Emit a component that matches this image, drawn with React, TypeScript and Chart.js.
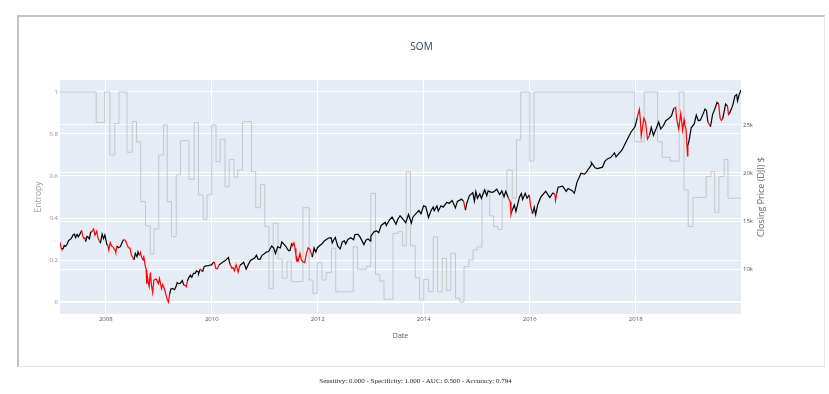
import React, { useEffect, useRef } from "react";
import { Chart, registerables } from "chart.js";
Chart.register(...registerables);

const chartTitle = "SOM";
const xTitle = "Date";
const leftTitle = "Entropy";
const rightTitle = "Closing Price (DJI) $";
const footerText = "Sensitivy: 0.000 - Specificity: 1.000 - AUC: 0.500 - Accuracy: 0.794";

const xTickYears = [2008, 2010, 2012, 2014, 2016, 2018];
const entropyTicks = [0, 0.2, 0.4, 0.6, 0.8, 1];
const priceTicks = [10000, 15000, 20000, 25000];

const priceDates = [
  "2007-02-20","2007-02-27","2007-03-05","2007-03-14","2007-03-21","2007-03-30","2007-04-10","2007-04-20","2007-04-30","2007-05-10",
  "2007-05-21","2007-05-31","2007-06-07","2007-06-18","2007-06-26","2007-07-05","2007-07-19","2007-07-26","2007-08-03","2007-08-10",
  "2007-08-16","2007-08-24","2007-08-31","2007-09-10","2007-09-19","2007-09-28","2007-10-09","2007-10-19","2007-10-31","2007-11-08",
  "2007-11-21","2007-11-26","2007-12-07","2007-12-17","2007-12-26","2008-01-08","2008-01-15","2008-01-22","2008-02-01","2008-02-12",
  "2008-02-21","2008-03-07","2008-03-10","2008-03-18","2008-03-28","2008-04-11","2008-04-23","2008-05-02","2008-05-15","2008-05-27",
  "2008-06-06","2008-06-17","2008-06-26","2008-07-15","2008-07-23","2008-08-04","2008-08-11","2008-08-20","2008-08-28","2008-09-05",
  "2008-09-15","2008-09-19","2008-09-29","2008-10-06","2008-10-10","2008-10-13","2008-10-22","2008-10-27","2008-11-04","2008-11-12",
  "2008-11-20","2008-11-28","2008-12-08","2008-12-16","2008-12-29","2009-01-06","2009-01-20","2009-01-28","2009-02-10","2009-02-23",
  "2009-03-02","2009-03-09","2009-03-17","2009-03-26","2009-04-06","2009-04-20","2009-04-30","2009-05-08","2009-05-19","2009-05-29",
  "2009-06-12","2009-06-23","2009-07-03","2009-07-10","2009-07-17","2009-07-27","2009-08-07","2009-08-17","2009-08-28","2009-09-09",
  "2009-09-18","2009-09-30","2009-10-02","2009-10-14","2009-10-30","2009-11-09","2009-11-20","2009-12-09","2009-12-21","2009-12-31",
  "2010-01-11","2010-01-19","2010-01-29","2010-02-08","2010-02-19","2010-03-05","2010-03-19","2010-04-07","2010-04-26","2010-05-06",
  "2010-05-20","2010-05-28","2010-06-07","2010-06-18","2010-07-02","2010-07-13","2010-07-26","2010-08-09","2010-08-26","2010-09-10",
  "2010-09-24","2010-10-08","2010-10-25","2010-11-05","2010-11-16","2010-11-30","2010-12-13","2010-12-29","2011-01-14","2011-01-28",
  "2011-02-18","2011-03-04","2011-03-16","2011-03-31","2011-04-18","2011-04-29","2011-05-13","2011-05-25","2011-06-06","2011-06-15",
  "2011-06-24","2011-07-07","2011-07-12","2011-07-21","2011-07-29","2011-08-04","2011-08-08","2011-08-11","2011-08-19","2011-08-31",
  "2011-09-09","2011-09-22","2011-10-03","2011-10-13","2011-10-27","2011-11-07","2011-11-25","2011-12-07","2011-12-19","2011-12-30",
  "2012-01-13","2012-01-31","2012-02-17","2012-03-16","2012-04-02","2012-04-10","2012-04-20","2012-05-01","2012-05-18","2012-06-04",
  "2012-06-19","2012-07-03","2012-07-12","2012-07-27","2012-08-16","2012-09-05","2012-09-14","2012-10-05","2012-10-19","2012-11-15",
  "2012-11-30","2012-12-14","2012-12-28","2013-01-02","2013-01-25","2013-02-11","2013-02-25","2013-03-14","2013-04-11","2013-04-18",
  "2013-05-10","2013-05-28","2013-06-24","2013-07-05","2013-07-22","2013-08-15","2013-08-30","2013-09-18","2013-10-08","2013-10-18",
  "2013-11-08","2013-11-29","2013-12-13","2013-12-31","2014-01-15","2014-02-03","2014-02-21","2014-03-07","2014-03-14","2014-04-02",
  "2014-04-11","2014-04-30","2014-05-15","2014-06-09","2014-06-24","2014-07-16","2014-08-07","2014-08-21","2014-09-19","2014-10-03",
  "2014-10-15","2014-10-24","2014-11-11","2014-12-05","2014-12-16","2014-12-26","2015-01-06","2015-01-22","2015-02-02","2015-02-25",
  "2015-03-11","2015-03-20","2015-04-13","2015-04-27","2015-05-19","2015-06-08","2015-06-23","2015-07-08","2015-07-20","2015-08-06",
  "2015-08-20","2015-08-25","2015-09-01","2015-09-17","2015-09-28","2015-10-22","2015-11-04","2015-11-13","2015-12-01","2015-12-14",
  "2015-12-29","2016-01-07","2016-01-20","2016-02-01","2016-02-11","2016-02-25","2016-03-17","2016-04-20","2016-05-19","2016-06-08",
  "2016-06-23","2016-06-27","2016-07-05","2016-07-15","2016-08-15","2016-09-09","2016-09-22","2016-10-20","2016-11-04","2016-11-22",
  "2016-12-20","2017-01-13","2017-01-25","2017-02-28","2017-03-01","2017-03-27","2017-04-13","2017-05-17","2017-06-02","2017-06-20",
  "2017-07-14","2017-08-08","2017-08-18","2017-09-29","2017-10-31","2017-11-30","2017-12-28","2018-01-12","2018-01-26","2018-02-02",
  "2018-02-08","2018-02-26","2018-03-09","2018-03-23","2018-04-06","2018-04-18","2018-05-03","2018-05-25","2018-06-08","2018-06-22",
  "2018-07-10","2018-07-27","2018-08-17","2018-09-04","2018-09-21","2018-10-03","2018-10-10","2018-10-24","2018-11-07","2018-11-20",
  "2018-11-30","2018-12-04","2018-12-13","2018-12-24","2018-12-26","2019-01-04","2019-01-18","2019-02-08","2019-02-22","2019-03-08",
  "2019-03-22","2019-04-10","2019-04-23","2019-05-03","2019-05-13","2019-05-31","2019-06-14","2019-06-28","2019-07-15","2019-07-26",
  "2019-08-05","2019-08-14","2019-08-23","2019-09-12","2019-09-25","2019-10-02","2019-10-08","2019-10-31","2019-11-15","2019-11-27",
  "2019-12-03","2019-12-16","2019-12-27"
];

const priceValues = [
  12786,12216,12050,12133,12447,12354,12573,12961,13063,13215,
  13542,13628,13266,13612,13337,13578,14000,13473,13182,13240,
  12846,13379,13358,13128,13816,13896,14165,13522,13930,13266,
  12799,12743,13625,13167,13551,12589,12501,11971,12743,12373,
  12284,11894,11740,12392,12216,12325,12763,13058,12992,12548,
  12209,12160,11453,10962,11632,11284,11782,11417,11715,11220,
  10917,11388,10365,9955,8451,9387,8519,8175,9625,8282,
  7552,8829,8934,8924,8483,9015,7949,8375,7888,7114,
  6763,6547,7395,7924,7975,7841,8168,8575,8474,8500,
  8799,8322,8280,8146,8743,9108,9370,9135,9544,9547,
  9820,9712,9487,10015,9713,10226,10318,10337,10414,10428,
  10663,10725,10067,10002,10402,10566,10741,10898,11205,10520,
  10068,10136,9816,10450,9686,10363,10525,10698,9985,10462,
  10860,11006,11164,11444,11023,11006,11428,11585,11787,11823,
  12391,12169,11613,12320,12202,12810,12596,12394,12089,11897,
  11934,12719,12447,12724,12143,11384,10810,11143,10818,11614,
  10992,10734,10655,11478,12209,12068,11231,12196,11766,12218,
  12422,12633,12950,13233,13264,12716,13029,13279,12369,12101,
  12837,12943,12605,13076,13250,13047,13593,13610,13344,12543,
  13026,13136,12938,13412,13895,13971,13784,14539,14865,14537,
  15118,15409,14660,15135,15545,15112,14810,15677,14776,15400,
  15761,16086,15755,16577,16481,15373,16103,16452,16066,16573,
  16027,16581,16447,16943,16819,17138,16368,17039,17280,17009,
  16141,16805,17615,17958,17068,18053,17371,17813,17361,18224,
  17635,18127,17977,18037,18312,17766,18144,17515,18100,17419,
  16990,15666,16058,16675,16002,17489,17867,17245,17888,17368,
  17720,16514,15766,16449,15660,16697,17482,18096,17435,17920,
  17780,17140,17840,18516,18636,18085,18392,18163,17888,19023,
  19974,19885,20069,20812,21115,20550,20453,20607,21206,21467,
  21638,22085,21674,22405,23377,24272,24837,25803,26617,25521,
  23860,25710,25336,23533,23933,24748,23930,24753,25317,24580,
  24920,25451,25669,25952,26744,26828,25599,24584,26191,24465,
  25538,25027,24597,21792,22878,23433,24706,25106,26031,25450,
  25502,26157,26656,26505,25324,24815,26089,26600,27359,27192,
  25718,25479,25629,27182,26970,26078,26164,27046,28005,28164,
  27503,28235,28645
];

const redStarts = [
  "2007-02-20","2007-07-22","2007-10-01","2008-01-12","2008-05-01","2008-08-22","2009-06-26","2009-10-20","2010-01-21","2010-05-04",
  "2011-07-08","2014-10-06","2015-08-12","2016-01-01","2016-06-21","2018-01-18","2018-09-26","2019-05-10","2019-07-28","2019-09-26"
];
const redEnds = [
  "2007-03-06","2007-08-19","2007-11-22","2008-03-15","2008-07-08","2009-03-17","2009-07-14","2009-11-02","2010-02-14","2010-07-12",
  "2011-11-20","2014-10-17","2015-09-08","2016-01-22","2016-07-08","2018-04-05","2018-12-26","2019-05-31","2019-08-26","2019-10-06"
];

const entropyYears = [
  2007.137,2007.82,2007.98,2008.08,2008.17,2008.25,2008.40,2008.50,2008.58,2008.66,
  2008.75,2008.84,2008.91,2009.00,2009.09,2009.16,2009.24,2009.33,2009.41,2009.57,
  2009.67,2009.75,2009.84,2009.91,2010.00,2010.08,2010.16,2010.25,2010.33,2010.42,
  2010.49,2010.58,2010.75,2010.83,2010.92,2011.00,2011.08,2011.16,2011.25,2011.33,
  2011.42,2011.50,2011.72,2011.84,2011.91,2011.99,2012.08,2012.16,2012.26,2012.34,
  2012.67,2012.75,2012.92,2013.00,2013.09,2013.17,2013.25,2013.42,2013.52,2013.60,
  2013.67,2013.75,2013.84,2013.92,2014.00,2014.09,2014.18,2014.26,2014.35,2014.43,
  2014.51,2014.60,2014.68,2014.76,2014.85,2014.93,2015.01,2015.10,2015.245,2015.32,
  2015.40,2015.48,2015.57,2015.67,2015.75,2015.83,2016.00,2016.08,2017.98,2018.16,
  2018.41,2018.50,2018.65,2018.82,2018.91,2018.99,2019.08,2019.33,2019.42,2019.49,
  2019.57,2019.67,2019.74,2019.986
];
const entropyValues = [
  1.0,0.855,1.0,0.70,0.85,1.0,0.713,0.859,0.763,0.478,
  0.363,0.228,0.348,0.70,0.843,0.478,0.311,0.605,0.768,0.584,
  0.854,0.51,0.394,0.51,0.843,0.668,0.775,0.549,0.679,0.594,
  0.629,0.859,0.621,0.449,0.56,0.359,0.065,0.375,0.205,0.113,
  0.195,0.097,0.449,0.105,0.041,0.187,0.105,0.14,0.256,0.049,
  0.263,0.156,0.17,0.517,0.132,0.10,0.013,0.327,0.335,0.268,
  0.62,0.268,0.116,0.01,0.108,0.049,0.311,0.049,0.208,0.054,
  0.232,0.018,0.0,0.168,0.2,0.248,0.263,0.533,0.41,0.359,
  0.346,0.517,0.629,0.494,0.771,1.0,0.671,1.0,0.763,1.0,
  0.763,0.689,0.671,1.0,0.533,0.359,0.498,0.597,0.621,0.427,
  0.597,0.679,0.494,0.494
];

function toYear(s: string): number {
  const [y, m, d] = s.split("-").map(Number);
  const t0 = Date.UTC(y, 0, 1);
  const t1 = Date.UTC(y + 1, 0, 1);
  return y + (Date.UTC(y, m - 1, d) - t0) / (t1 - t0);
}

const FONT = '"Open Sans", "DejaVu Sans", sans-serif';

export default function App() {
  const ref = useRef<HTMLCanvasElement>(null);

  useEffect(() => {
    const canvas = ref.current;
    if (!canvas) return;
    const priceData = priceDates.map((d, i) => ({ x: toYear(d), y: priceValues[i] }));
    const entropyData = entropyYears.map((x, i) => ({ x, y: entropyValues[i] }));
    const redRanges = redStarts.map((s, i) => [toYear(s), toYear(redEnds[i])]);

    const bgPlugin = {
      id: "plotBg",
      beforeDraw(chart: any) {
        const { ctx, chartArea: a } = chart;
        ctx.save();
        ctx.fillStyle = "#E5ECF6";
        ctx.fillRect(a.left, a.top, a.right - a.left, a.bottom - a.top);
        ctx.restore();
      },
      afterDraw(chart: any) {
        const { ctx, chartArea: a } = chart;
        ctx.save();
        ctx.fillStyle = "#2a3f5f";
        ctx.font = `10px ${FONT}`;
        ctx.textAlign = "center";
        ctx.textBaseline = "middle";
        ctx.fillText(chartTitle, 421.5, 47);
        ctx.translate(761, (a.top + a.bottom) / 2);
        ctx.rotate(-Math.PI / 2);
        ctx.fillStyle = "#666";
        ctx.font = `9px ${FONT}`;
        ctx.fillText(rightTitle, 0, 0);
        ctx.restore();
      },
    };

    const chart = new Chart(canvas, {
      type: "line",
      data: {
        datasets: [
          {
            label: "Price",
            data: priceData,
            yAxisID: "y1",
            borderColor: "#000000",
            borderWidth: 1.2,
            pointRadius: 0,
            tension: 0,
            segment: {
              borderColor: (c: any) => {
                const m = (c.p0.parsed.x + c.p1.parsed.x) / 2;
                return redRanges.some(([a, b]) => m >= a && m <= b) ? "#ff0000" : "#000000";
              },
            },
          },
          {
            label: "Entropy",
            data: entropyData,
            yAxisID: "y",
            borderColor: "#c6c6c6",
            borderWidth: 1,
            pointRadius: 0,
            stepped: true,
          },
        ],
      },
      options: {
        responsive: false,
        devicePixelRatio: 1,
        animation: false,
        layout: { padding: { top: 80, left: 0, right: 0, bottom: 0 } },
        plugins: { legend: { display: false }, tooltip: { enabled: false }, title: { display: false } },
        scales: {
          x: {
            type: "linear",
            min: toYear(priceDates[0]),
            max: toYear(priceDates[priceDates.length - 1]),
            afterBuildTicks: (s: any) => { s.ticks = xTickYears.map((v) => ({ value: v })); },
            afterFit: (s: any) => { s.height = 80; },
            ticks: { callback: (v: any) => String(v), font: { family: FONT, size: 6 }, color: "#555", padding: 2, maxRotation: 0, autoSkip: false },
            grid: { color: "#ffffff", drawTicks: false, lineWidth: 1 },
            border: { display: false },
            title: { display: true, text: xTitle, font: { family: FONT, size: 7 }, color: "#555", padding: { top: 0, bottom: 54 } },
          },
          y: {
            type: "linear",
            position: "left",
            min: -0.057,
            max: 1.057,
            afterBuildTicks: (s: any) => { s.ticks = entropyTicks.map((v) => ({ value: v })); },
            afterFit: (s: any) => { s.width = 60; },
            ticks: { callback: (v: any) => String(v), font: { family: FONT, size: 6 }, color: "#8c8c8c", padding: 2 },
            grid: { color: "#ffffff", drawTicks: false, lineWidth: (c: any) => (c.tick && c.tick.value === 0 ? 2 : 1) },
            border: { display: false },
            title: { display: true, text: leftTitle, font: { family: FONT, size: 8.5 }, color: "#a0a0a0", padding: { top: 33, bottom: 0 } },
          },
          y1: {
            type: "linear",
            position: "right",
            min: 5313,
            max: 29687,
            afterBuildTicks: (s: any) => { s.ticks = priceTicks.map((v) => ({ value: v })); },
            afterFit: (s: any) => { s.width = 88; },
            ticks: { callback: (v: any) => `${v / 1000}k`, font: { family: FONT, size: 6 }, color: "#555", padding: 2 },
            grid: { color: "#ffffff", drawTicks: false, lineWidth: 1 },
            border: { display: false },
          },
        },
      },
      plugins: [bgPlugin],
    } as any);

    return () => chart.destroy();
  }, []);

  return (
    <div style={{ position: "fixed", left: 0, top: 0, width: 829, height: 394, background: "#ffffff", overflow: "hidden" }}>
      <div
        style={{
          position: "absolute", left: 17, top: 15, width: 808, height: 352, boxSizing: "border-box",
          borderTop: "2px solid #c4c4c4", borderLeft: "2px solid #c4c4c4",
          borderRight: "1px solid #e6e6e6", borderBottom: "1px solid #e6e6e6",
        }}
      />
      <canvas ref={ref} width={829} height={394} style={{ position: "absolute", left: 0, top: 0, width: 829, height: 394 }} />
      <div
        style={{
          position: "absolute", left: 1, top: 377, width: 829, textAlign: "center",
          fontFamily: '"Liberation Serif", "Times New Roman", serif', fontSize: 7, lineHeight: "8px",
          color: "#222", whiteSpace: "nowrap",
        }}
      >
        {footerText}
      </div>
    </div>
  );
}
